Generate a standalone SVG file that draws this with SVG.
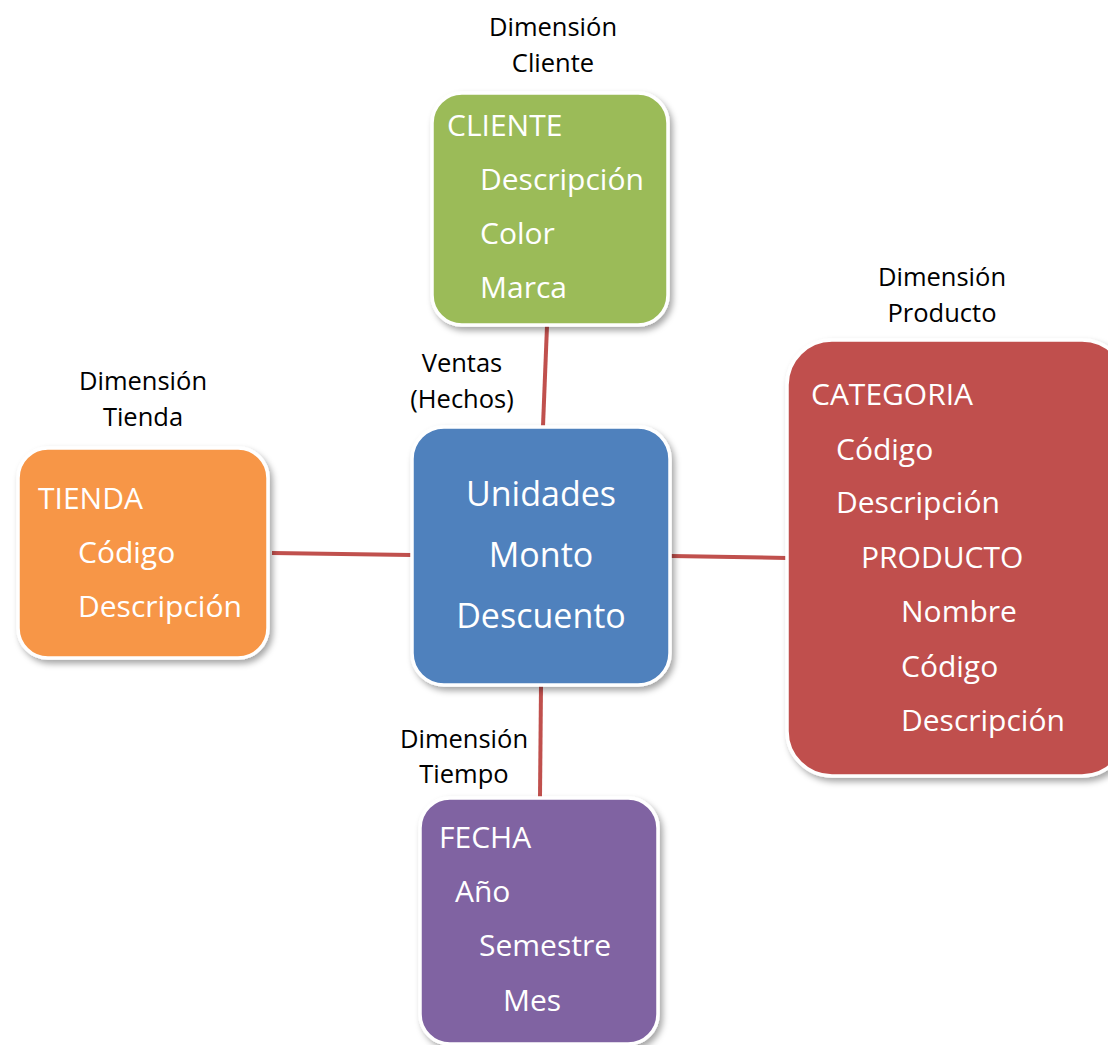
<svg xmlns="http://www.w3.org/2000/svg" width="1108" height="1045" viewBox="0 0 1108 1045">
  <defs>
    <filter id="shadow" x="-10%" y="-10%" width="125%" height="125%">
      <feDropShadow dx="3" dy="4" stdDeviation="3" flood-color="#000" flood-opacity="0.35"/>
    </filter>
  </defs>
  <style>
    .box { stroke: #ffffff; stroke-width: 3.5; filter: url(#shadow); }
    .item { font-family: "Open Sans", "Liberation Sans", sans-serif; font-size: 30px; fill: #ffffff; }
    .fact { font-family: "Open Sans", "Liberation Sans", sans-serif; font-size: 34px; fill: #ffffff; text-anchor: middle; }
    .label { font-family: "Open Sans", "Liberation Sans", sans-serif; font-size: 25.5px; fill: #000000; text-anchor: middle; }
    .link { stroke: #C0504D; stroke-width: 4; fill: none; }
  </style>
  <rect width="1108" height="1045" fill="#ffffff"/>

  <!-- connectors between the fact table and its dimensions -->
  <g id="connectors">
    <line class="link" x1="547" y1="326" x2="543" y2="426"/>
    <line class="link" x1="272" y1="553" x2="411" y2="555"/>
    <line class="link" x1="671" y1="556" x2="787" y2="558"/>
    <line class="link" x1="541" y1="686" x2="540" y2="797"/>
  </g>

  <!-- fact table -->
  <g id="ventas">
    <rect class="box" x="412" y="427" width="258" height="258" rx="32" fill="#4F81BD"/>
    <text class="fact" x="541" y="506">Unidades</text>
    <text class="fact" x="541" y="567">Monto</text>
    <text class="fact" x="541" y="628">Descuento</text>
    <text class="label" x="462" y="372">Ventas</text>
    <text class="label" x="462" y="408">(Hechos)</text>
  </g>

  <!-- customer dimension -->
  <g id="cliente">
    <rect class="box" x="432" y="93" width="236" height="232" rx="30" fill="#9BBB59"/>
    <text class="item" x="447" y="136">CLIENTE</text>
    <text class="item" x="480" y="190">Descripción</text>
    <text class="item" x="480" y="244">Color</text>
    <text class="item" x="480" y="298">Marca</text>
    <text class="label" x="553" y="36">Dimensión</text>
    <text class="label" x="553" y="72">Cliente</text>
  </g>

  <!-- store dimension -->
  <g id="tienda">
    <rect class="box" x="18" y="448" width="250" height="210" rx="30" fill="#F79646"/>
    <text class="item" x="38" y="509">TIENDA</text>
    <text class="item" x="78" y="563">Código</text>
    <text class="item" x="78" y="617">Descripción</text>
    <text class="label" x="143" y="390">Dimensión</text>
    <text class="label" x="143" y="426">Tienda</text>
  </g>

  <!-- product dimension -->
  <g id="producto">
    <rect class="box" x="787" y="340" width="340" height="436" rx="45" fill="#C0504D"/>
    <text class="item" x="811" y="405">CATEGORIA</text>
    <text class="item" x="836" y="460">Código</text>
    <text class="item" x="836" y="513">Descripción</text>
    <text class="item" x="861" y="568">PRODUCTO</text>
    <text class="item" x="901" y="622">Nombre</text>
    <text class="item" x="901" y="677">Código</text>
    <text class="item" x="901" y="731">Descripción</text>
    <text class="label" x="942" y="286">Dimensión</text>
    <text class="label" x="942" y="322">Producto</text>
  </g>

  <!-- time dimension -->
  <g id="fecha">
    <rect class="box" x="420" y="798" width="238" height="246" rx="30" fill="#8064A2"/>
    <text class="item" x="439" y="848">FECHA</text>
    <text class="item" x="455" y="902">Año</text>
    <text class="item" x="479" y="956">Semestre</text>
    <text class="item" x="503" y="1011">Mes</text>
    <text class="label" x="464" y="748">Dimensión</text>
    <text class="label" x="464" y="783">Tiempo</text>
  </g>
</svg>
